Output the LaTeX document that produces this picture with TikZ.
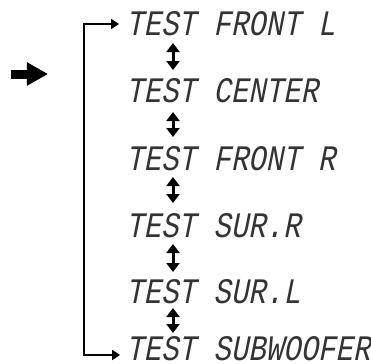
\documentclass[tikz,border=0pt]{standalone}
\usepackage{fontspec}
\usetikzlibrary{arrows.meta}
\newfontfamily\lcdfont[FakeSlant=0.2,FakeStretch=0.81]{Liberation Mono}
\begin{document}
\begin{tikzpicture}[x=1bp,y=-1bp,
  lcd/.style={anchor=base west,inner sep=0pt,font=\lcdfont\fontsize{36}{36}\selectfont,text=black!80},
  link/.style={line width=2.5bp,-{Triangle[length=8bp,width=10bp]}},
  dbl/.style={line width=3bp,{Triangle[length=9bp,width=13bp]}-{Triangle[length=9bp,width=13bp]}}]
\useasboundingbox (0,0) rectangle (371,364);
% menu entries
\node[lcd] (t1) at (126,35) {TEST FRONT L};
\node[lcd] (t2) at (126,102) {TEST CENTER};
\node[lcd] (t3) at (126,170) {TEST FRONT R};
\node[lcd] (t4) at (126,237) {TEST SUR.R};
\node[lcd] (t5) at (126,303) {TEST SUR.L};
\node[lcd] (t6) at (126,360) {TEST SUBWOOFER};
% double arrows between entries
\coordinate (d1a) at (173,43);  \coordinate (d1b) at (173,70);
\coordinate (d2a) at (173,112); \coordinate (d2b) at (173,137);
\coordinate (d3a) at (173,177); \coordinate (d3b) at (173,203);
\coordinate (d4a) at (173,244); \coordinate (d4b) at (173,272);
\coordinate (d5a) at (173,308); \coordinate (d5b) at (173,333);
\draw[dbl] (d1a) -- (d1b);
\draw[dbl] (d2a) -- (d2b);
\draw[dbl] (d3a) -- (d3b);
\draw[dbl] (d4a) -- (d4b);
\draw[dbl] (d5a) -- (d5b);
% bracket
\coordinate (bt) at (84,24);
\coordinate (bb) at (84,355);
\coordinate (e1) at (119,24);
\coordinate (e6) at (120,355);
\draw[link] (bb) -- (bt) -- (e1);
\draw[link] (bt) -- (bb) -- (e6);
% pointer arrow
\coordinate (p0) at (11,74);
\coordinate (p1) at (48,74);
\draw[line width=9bp,-{Triangle[length=21bp,width=22bp]}] (p0) -- (p1);
\end{tikzpicture}
\end{document}
